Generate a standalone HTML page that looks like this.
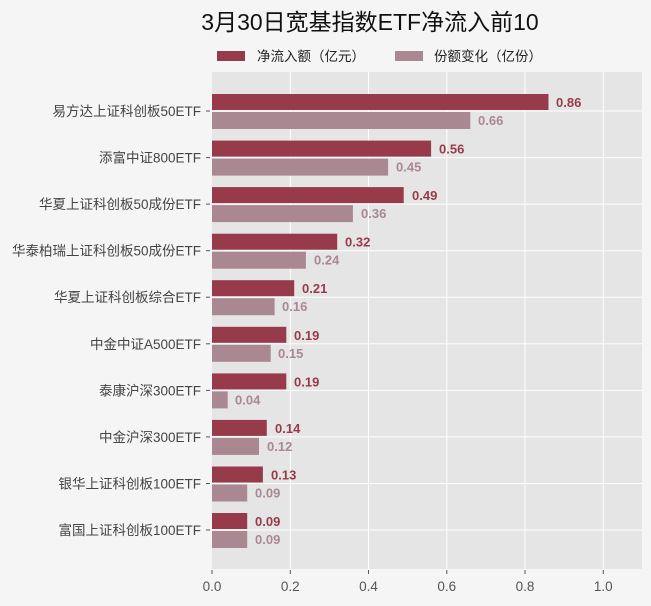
<!DOCTYPE html>
<html><head><meta charset="utf-8"><style>
html,body{margin:0;padding:0;background:#f5f5f5;}
svg{display:block;font-family:"Liberation Sans","Noto Sans CJK SC",sans-serif;}
.y{font-size:13.5px;fill:#444;text-anchor:end}
.x{font-size:13.5px;fill:#555;text-anchor:middle}
.d{font-size:13px;font-weight:bold;fill:#973b4b}
.l{font-size:13px;font-weight:bold;fill:#a98891}
</style></head><body>
<svg width="651" height="606" viewBox="0 0 651 606">
<rect width="651" height="606" fill="#f5f5f5"/>
<text x="370" y="30" font-size="23" text-anchor="middle" fill="#111">3月30日宽基指数ETF净流入前10</text>
<rect x="217" y="51" width="28" height="10" fill="#973b4b"/>
<text x="257" y="61" font-size="13.5" fill="#222">净流入额（亿元）</text>
<rect x="395" y="51" width="28" height="10" fill="#a98891"/>
<text x="434" y="61" font-size="13.5" fill="#222">份额变化（亿份）</text>
<rect x="212" y="72" width="430" height="497" fill="#e5e5e5"/>
<g stroke="#fff" stroke-width="1">
<line x1="290.3" y1="72" x2="290.3" y2="569"/><line x1="368.5" y1="72" x2="368.5" y2="569"/>
<line x1="446.8" y1="72" x2="446.8" y2="569"/><line x1="525" y1="72" x2="525" y2="569"/>
<line x1="603.3" y1="72" x2="603.3" y2="569"/>
<line x1="212" y1="111" x2="642" y2="111"/><line x1="212" y1="157.6" x2="642" y2="157.6"/>
<line x1="212" y1="204.1" x2="642" y2="204.1"/><line x1="212" y1="250.7" x2="642" y2="250.7"/>
<line x1="212" y1="297.2" x2="642" y2="297.2"/><line x1="212" y1="343.8" x2="642" y2="343.8"/>
<line x1="212" y1="390.4" x2="642" y2="390.4"/><line x1="212" y1="436.9" x2="642" y2="436.9"/>
<line x1="212" y1="483.5" x2="642" y2="483.5"/><line x1="212" y1="530" x2="642" y2="530"/>
</g>
<g stroke="#555" stroke-width="1">
<line x1="206" y1="111" x2="210" y2="111"/><line x1="206" y1="157.6" x2="210" y2="157.6"/>
<line x1="206" y1="204.1" x2="210" y2="204.1"/><line x1="206" y1="250.7" x2="210" y2="250.7"/>
<line x1="206" y1="297.2" x2="210" y2="297.2"/><line x1="206" y1="343.8" x2="210" y2="343.8"/>
<line x1="206" y1="390.4" x2="210" y2="390.4"/><line x1="206" y1="436.9" x2="210" y2="436.9"/>
<line x1="206" y1="483.5" x2="210" y2="483.5"/><line x1="206" y1="530" x2="210" y2="530"/>
<line x1="212" y1="570" x2="212" y2="574"/><line x1="290.3" y1="570" x2="290.3" y2="574"/>
<line x1="368.5" y1="570" x2="368.5" y2="574"/><line x1="446.8" y1="570" x2="446.8" y2="574"/>
<line x1="525" y1="570" x2="525" y2="574"/><line x1="603.3" y1="570" x2="603.3" y2="574"/>
</g>
<text class="x" x="212" y="591">0.0</text><text class="x" x="290.3" y="591">0.2</text>
<text class="x" x="368.5" y="591">0.4</text><text class="x" x="446.8" y="591">0.6</text>
<text class="x" x="525" y="591">0.8</text><text class="x" x="603.3" y="591">1.0</text>

<text class="y" x="201" y="116">易方达上证科创板50ETF</text>
<text class="y" x="201" y="162.6">添富中证800ETF</text>
<text class="y" x="201" y="209.1">华夏上证科创板50成份ETF</text>
<text class="y" x="201" y="255.7">华泰柏瑞上证科创板50成份ETF</text>
<text class="y" x="201" y="302.2">华夏上证科创板综合ETF</text>
<text class="y" x="201" y="348.8">中金中证A500ETF</text>
<text class="y" x="201" y="395.4">泰康沪深300ETF</text>
<text class="y" x="201" y="441.9">中金沪深300ETF</text>
<text class="y" x="201" y="488.5">银华上证科创板100ETF</text>
<text class="y" x="201" y="535">富国上证科创板100ETF</text>

<g fill="#973b4b">
<rect x="212" y="94" width="336.5" height="16"/>
<rect x="212" y="140.6" width="219.1" height="16"/>
<rect x="212" y="187.1" width="191.7" height="16"/>
<rect x="212" y="233.7" width="125.2" height="16"/>
<rect x="212" y="280.2" width="82.2" height="16"/>
<rect x="212" y="326.8" width="74.3" height="16"/>
<rect x="212" y="373.4" width="74.3" height="16"/>
<rect x="212" y="419.9" width="54.8" height="16"/>
<rect x="212" y="466.5" width="50.9" height="16"/>
<rect x="212" y="513" width="35.2" height="16"/>
</g>
<g fill="#a98891">
<rect x="212" y="112" width="258.3" height="17"/>
<rect x="212" y="158.6" width="176.1" height="17"/>
<rect x="212" y="205.1" width="140.9" height="17"/>
<rect x="212" y="251.7" width="93.9" height="17"/>
<rect x="212" y="298.2" width="62.6" height="17"/>
<rect x="212" y="344.8" width="58.7" height="17"/>
<rect x="212" y="391.4" width="15.7" height="17"/>
<rect x="212" y="437.9" width="47" height="17"/>
<rect x="212" y="484.5" width="35.2" height="17"/>
<rect x="212" y="531" width="35.2" height="17"/>
</g>
<text class="d" x="556" y="107">0.86</text><text class="l" x="478" y="125">0.66</text>
<text class="d" x="439" y="153.6">0.56</text><text class="l" x="396" y="171.6">0.45</text>
<text class="d" x="412" y="200.1">0.49</text><text class="l" x="361" y="218.1">0.36</text>
<text class="d" x="345" y="246.7">0.32</text><text class="l" x="314" y="264.7">0.24</text>
<text class="d" x="302" y="293.2">0.21</text><text class="l" x="282" y="311.2">0.16</text>
<text class="d" x="294" y="339.8">0.19</text><text class="l" x="278" y="357.8">0.15</text>
<text class="d" x="294" y="386.4">0.19</text><text class="l" x="235" y="404.4">0.04</text>
<text class="d" x="275" y="432.9">0.14</text><text class="l" x="267" y="450.9">0.12</text>
<text class="d" x="271" y="479.5">0.13</text><text class="l" x="255" y="497.5">0.09</text>
<text class="d" x="255" y="526">0.09</text><text class="l" x="255" y="544">0.09</text>
</svg>
</body></html>
